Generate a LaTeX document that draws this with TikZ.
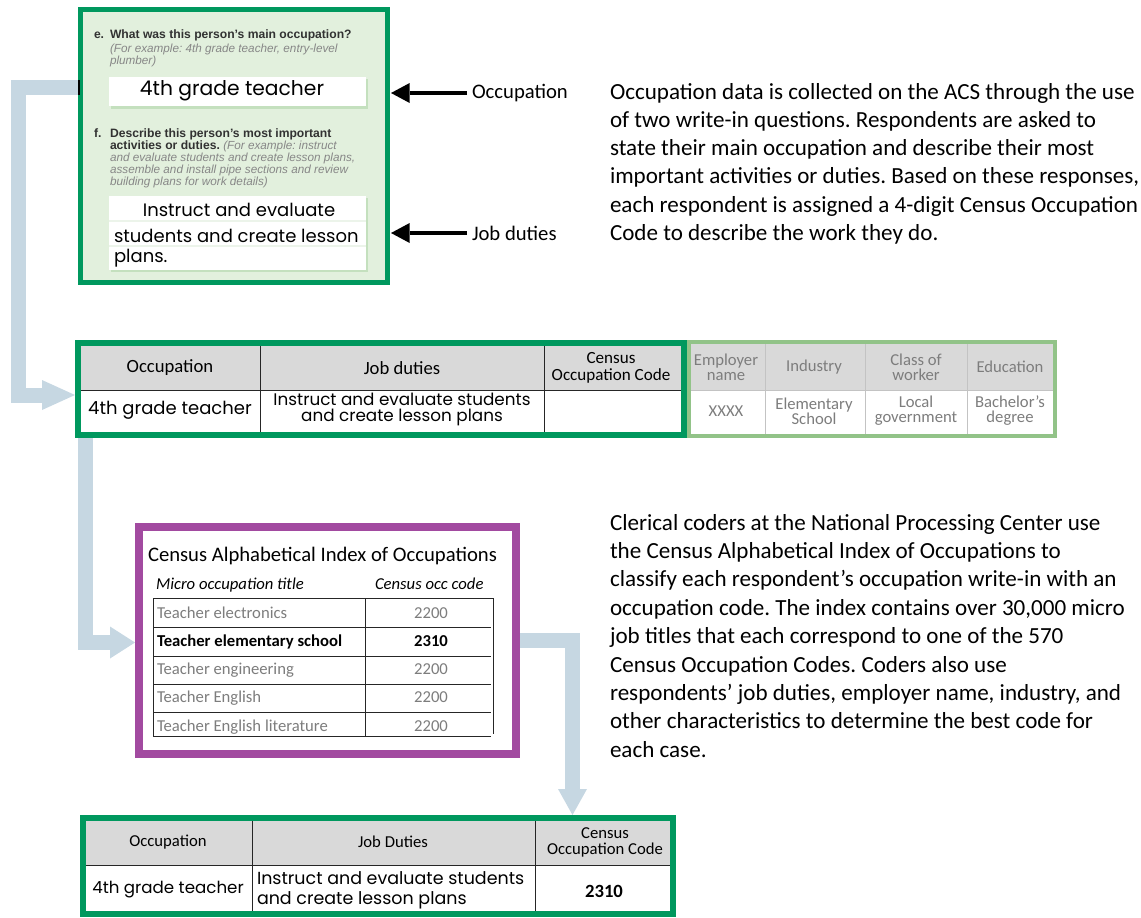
\documentclass[tikz,border=0pt]{standalone}
\usepackage{fontspec}
\setmainfont{Carlito}
\newfontfamily\hand{Poppins}
\newfontfamily\formf{Liberation Sans}
\usetikzlibrary{arrows.meta,calc}
\definecolor{dgreen}{RGB}{0,152,94}
\definecolor{lgreen}{RGB}{146,195,136}
\definecolor{formbg}{RGB}{226,240,221}
\definecolor{flowc}{RGB}{198,215,226}
\definecolor{purp}{RGB}{162,74,160}
\definecolor{hdr}{RGB}{217,217,217}
\definecolor{gtext}{RGB}{125,125,125}
\definecolor{ftext}{RGB}{50,50,50}
\definecolor{fgray}{RGB}{135,135,135}
\definecolor{shad}{RGB}{196,224,190}
\definecolor{lline}{RGB}{195,195,195}
\definecolor{rowsep}{RGB}{236,244,234}
\frenchspacing
\begin{document}
\begin{tikzpicture}[x=0.75pt,y=-0.75pt,
  lbl/.style={inner sep=0pt, outer sep=0pt},
  para/.style={lbl, anchor=base west, font=\fontsize{17.3}{20}\selectfont},
  formq/.style={lbl, anchor=base west, text=ftext, font=\formf\bfseries\fontsize{9.1}{10}\selectfont},
  formex/.style={lbl, anchor=base west, text=fgray, font=\formf\itshape\fontsize{8.8}{10}\selectfont},
  hand/.style={lbl, font=\hand\fontsize{13.5}{16}\selectfont},
  flowarrow/.style={draw=flowc, color=flowc, line width=11.25pt, line join=miter},
  callout/.style={draw=black, line width=3.5pt, -{Triangle[length=14pt,width=15pt,line width=0pt]}},
  thinline/.style={draw=black!85, line width=0.75pt},
  greyline/.style={draw=lline, line width=0.75pt},
  frame/.style={inner sep=0pt, outer sep=0pt},
  midhdr/.style={lbl, font=\fontsize{14}{16}\selectfont},
  exthdr/.style={lbl, align=center, text=gtext, font=\fontsize{12.5}{11.3}\selectfont},
  idxrow/.style={lbl, anchor=base west, text=gtext, font=\fontsize{12.5}{15}\selectfont},
  idxcode/.style={lbl, anchor=base, text=gtext, font=\fontsize{12.5}{15}\selectfont},
]
\useasboundingbox (0,0) rectangle (1141,917);

% ---------------- form ----------------
\node[frame, draw=dgreen, line width=3.75pt, fill=formbg,
      minimum width={307*0.75pt}, minimum height={273*0.75pt}] (form) at (234,146) {};
\draw[black, line width=1.5pt] (79,80) -- (79,95);
\node[formq] (qe) at (94,38.5) {e.};
\node[formq] (qet) at (110,38.5) {What was this person’s main occupation?};
\node[formex] (qe1) at (110,52.5) {(For example: 4th grade teacher, entry-level};
\node[formex] (qe2) at (110,64.5) {plumber)};
\fill[shad] (111,79) rectangle (368,108.5);
\node[frame, fill=white, minimum width={257*0.75pt}, minimum height={29*0.75pt}] (ans1) at (237.5,91.5) {};
\node[hand, font=\hand\fontsize{15.2}{17}\selectfont] (ans1t) at (232,91) {4th grade teacher};
\node[formq] (qf) at (94,137.5) {f.};
\node[formq] (qft) at (110,137.5) {Describe this person’s most important};
\node[formq] (qf1) at (110,149.5) {activities or duties. {\mdseries\itshape\color{fgray}\fontsize{8.8}{10}\selectfont(For example: instruct}};
\node[formex] (qf2) at (110,161.5) {and evaluate students and create lesson plans,};
\node[formex] (qf3) at (110,173.5) {assemble and install pipe sections and review};
\node[formex] (qf4) at (110,185.5) {building plans for work details)};
\fill[shad] (111,198) rectangle (368,272);
\node[frame, fill=white, minimum width={257*0.75pt}, minimum height={74*0.75pt}] (ans2) at (237.5,233) {};
\draw[rowsep, line width=1.5pt] (109,221) -- (366,221) (109,246) -- (366,246);
\node[hand] (ans2a) at (239,210) {Instruct and evaluate};
\node[hand, anchor=west] (ans2b) at (114,236) {students and create lesson};
\node[hand, anchor=west] (ans2c) at (114,258) {plans.};

% callouts
\node[lbl, anchor=west, font=\fontsize{15.5}{18}\selectfont] (lo) at (472,93) {Occupation};
\node[lbl, anchor=west, font=\fontsize{15.5}{18}\selectfont] (lj) at (472,233) {Job duties};
\draw[callout] ($(lo.west)+(-5,0)$) -- ($(form.east |- lo.west)+(3.5,0)$);
\draw[callout] ($(lj.west)+(-5,0)$) -- ($(form.east |- lj.west)+(3.5,0)$);

% ---------------- paragraph 1 ----------------
\foreach \t [count=\i from 0] in {{Occupation data is collected on the ACS through the use},
  {of two write-in questions. Respondents are asked to},
  {state their main occupation and describe their most},
  {important activities or duties. Based on these responses,},
  {each respondent is assigned a 4-digit Census Occupation},
  {Code to describe the work they do.}}
  \node[para] (pa\i) at (610,99+28.3*\i) {\t};

% ---------------- middle table ----------------
\fill[hdr] (81,346) rectangle (681,390);
\fill[white] (81,390) rectangle (681,432);
\fill[hdr] (689,344) rectangle (1053,390);
\fill[white] (689,390) rectangle (1053,434);
\draw[thinline] (81,390) -- (681,390) (260,346) -- (260,432) (544,346) -- (544,432);
\draw[greyline] (689,390) -- (1053,390) (765,344) -- (765,434) (865,344) -- (865,434) (967,344) -- (967,434);
\draw[lgreen, line width=3pt] (689,342) rectangle (1055,436);
\node[frame, draw=dgreen, line width=4.5pt, minimum width={606*0.75pt}, minimum height={92*0.75pt}] (midtab) at (381,389) {};
\node[midhdr] (mh1) at (170,368) {Occupation};
\node[midhdr] (mh2) at (402,368) {Job duties};
\node[lbl, align=center, font=\fontsize{12.8}{12.5}\selectfont] (mh3) at (611,368) {Census\\Occupation Code};
\node[exthdr] (eh1) at (726,367) {Employer\\name};
\node[exthdr] (eh2) at (814,367) {Industry};
\node[exthdr] (eh3) at (916,367) {Class of\\worker};
\node[exthdr] (eh4) at (1010,367) {Education};
\node[hand] (mr1) at (170,410) {4th grade teacher};
\node[lbl, align=center, font=\hand\fontsize{12.6}{12}\selectfont] (mr2) at (402,409) {Instruct and evaluate students\\and create lesson plans};
\node[exthdr] (er1) at (726,411) {XXXX};
\node[exthdr] (er2) at (814,411) {Elementary\\School};
\node[exthdr] (er3) at (916,411) {Local\\government};
\node[exthdr] (er4) at (1010,411) {Bachelor’s\\degree};

% ---------------- index ----------------
\node[frame, draw=purp, line width=6pt, fill=white,
      minimum width={377*0.75pt}, minimum height={227*0.75pt}] (idx) at (327.5,640.5) {};
\node[lbl, anchor=base west, font=\fontsize{15.5}{18}\selectfont] (idxt) at (148,561) {Census Alphabetical Index of Occupations};
\node[lbl, anchor=base west, font=\itshape\fontsize{12.5}{15}\selectfont] (idxs1) at (156,589) {Micro occupation title};
\node[lbl, anchor=base west, font=\itshape\fontsize{12.5}{15}\selectfont] (idxs2) at (375,589) {Census occ code};
\draw[thinline] (153,598) -- (493,598) (153,627) -- (491,627) (153,656) -- (491,656)
  (153,684) -- (491,684) (153,712) -- (491,712) (153,736) -- (491,736);
\draw[thinline] (153,598) -- (153,737) (365,598) -- (365,737) (493,598) -- (493,734);
\node[idxrow] (r1) at (157,618) {Teacher electronics};
\node[idxrow, text=black, font=\bfseries\fontsize{12.5}{15}\selectfont] (r2) at (157,646) {Teacher elementary school};
\node[idxrow] (r3) at (157,674) {Teacher engineering};
\node[idxrow] (r4) at (157,702) {Teacher English};
\node[idxrow] (r5) at (157,731) {Teacher English literature};
\node[idxcode] (c1) at (431,618) {2200};
\node[idxcode, text=black, font=\bfseries\fontsize{12.5}{15}\selectfont] (c2) at (431,646) {2310};
\node[idxcode] (c3) at (431,674) {2200};
\node[idxcode] (c4) at (431,702) {2200};
\node[idxcode] (c5) at (431,731) {2200};

% ---------------- paragraph 2 ----------------
\foreach \t [count=\i from 0] in {{Clerical coders at the National Processing Center use},
  {the Census Alphabetical Index of Occupations to},
  {classify each respondent’s occupation write-in with an},
  {occupation code. The index contains over 30,000 micro},
  {job titles that each correspond to one of the 570},
  {Census Occupation Codes. Coders also use},
  {respondents’ job duties, employer name, industry, and},
  {other characteristics to determine the best code for},
  {each case.}}
  \node[para] (pb\i) at (610,530+28.4*\i) {\t};

% ---------------- bottom table ----------------
\fill[hdr] (86,821) rectangle (670,865);
\fill[white] (86,865) rectangle (670,912);
\draw[thinline] (86,865) -- (670,865) (252,821) -- (252,912) (535,821) -- (535,912);
\node[frame, draw=dgreen, line width=4.5pt, minimum width={590*0.75pt}, minimum height={96*0.75pt}] (bottab) at (378,866) {};
\node[lbl, font=\fontsize{12.5}{15}\selectfont] (bh1) at (168,842) {Occupation};
\node[lbl, font=\fontsize{12.5}{15}\selectfont] (bh2) at (393,842) {Job Duties};
\node[lbl, align=center, font=\fontsize{12.5}{12}\selectfont] (bh3) at (605,842) {Census\\Occupation Code};
\node[hand, font=\hand\fontsize{12.5}{15}\selectfont] (br1) at (168,890) {4th grade teacher};
\node[lbl, anchor=west, align=left, font=\hand\fontsize{13.1}{15}\selectfont] (br2) at (257,890) {Instruct and evaluate students\\and create lesson plans};
\node[lbl, font=\bfseries\fontsize{14}{16}\selectfont] (br3) at (604,891) {2310};

% ---------------- flow arrows ----------------
\coordinate (f1) at (78,87.5);
\draw[flowarrow, -{Triangle[length=24.75pt,width=22.5pt,line width=0pt]}]
  (f1) -- ++(-60,0) |- ($(midtab.west)+(-3,6)$);
\draw[flowarrow, -{Triangle[length=18.75pt,width=24pt,line width=0pt]}]
  ($(midtab.south west)+(7.5,3)$) |- ($(idx.west)+(-4,2)$);
\draw[flowarrow, -{Triangle[length=19.5pt,width=21.75pt,line width=0pt]}]
  ($(idx.east)+(4,0)$) -| ($(bottab.north)+(194.5,-3)$);
\end{tikzpicture}
\end{document}
